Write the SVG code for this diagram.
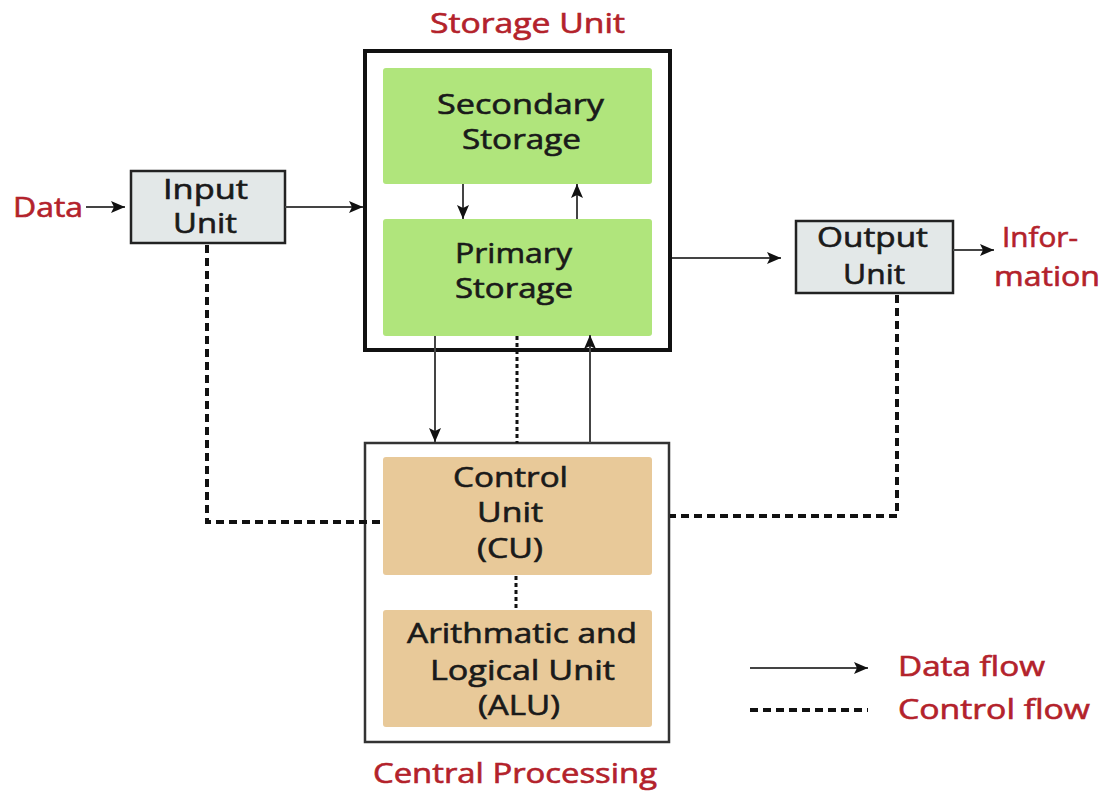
<svg xmlns="http://www.w3.org/2000/svg" width="1108" height="793" viewBox="0 0 1108 793">
<defs>
<marker id="arr" markerUnits="userSpaceOnUse" markerWidth="15" markerHeight="13" refX="14" refY="6.5" orient="auto">
<path d="M0,0.5 L14,6.5 L0,12.5 L3,6.5 Z" fill="#111"/>
</marker>
</defs>
<style>
text{font-family:"Open Sans","Liberation Sans",sans-serif;font-size:27px;fill:#1a1a1a;stroke:#1a1a1a;stroke-width:0.6}
text.red{fill:#b3222b;stroke:#b3222b}
.data{stroke:#444;stroke-width:2;fill:none}
.ctl{stroke:#111;stroke-width:4;stroke-dasharray:8 5;fill:none}
.ctl2{stroke:#111;stroke-width:3;stroke-dasharray:4 3;fill:none}
.green{fill:#b0e57c}
.tan{fill:#e8c999}
.grey{fill:#e3e8e8;stroke:#222;stroke-width:2.5}
</style>
<rect width="1108" height="793" fill="#fff"/>

<g id="storage-unit">
<rect x="365" y="51" width="305" height="299" fill="#fff" stroke="#111" stroke-width="4"/>
<text class="red" x="430" y="33" textLength="195" lengthAdjust="spacingAndGlyphs">Storage Unit</text>
</g>
<g id="secondary-storage">
<rect class="green" x="383" y="68" width="269" height="116" rx="3"/>
<text x="437" y="114" textLength="167" lengthAdjust="spacingAndGlyphs">Secondary</text>
<text x="462" y="149" textLength="119" lengthAdjust="spacingAndGlyphs">Storage</text>
</g>
<g id="primary-storage">
<rect class="green" x="383" y="219" width="269" height="117" rx="3"/>
<text x="455" y="263" textLength="117" lengthAdjust="spacingAndGlyphs">Primary</text>
<text x="455" y="298" textLength="118" lengthAdjust="spacingAndGlyphs">Storage</text>
</g>
<g id="input-unit">
<rect class="grey" x="131" y="171" width="154" height="72"/>
<text x="163" y="199" textLength="85" lengthAdjust="spacingAndGlyphs">Input</text>
<text x="173" y="233" textLength="64" lengthAdjust="spacingAndGlyphs">Unit</text>
</g>
<g id="data-label">
<text class="red" x="13" y="217" textLength="70" lengthAdjust="spacingAndGlyphs">Data</text>
</g>
<g id="output-unit">
<rect class="grey" x="796" y="221" width="157" height="72"/>
<text x="817" y="247" textLength="111" lengthAdjust="spacingAndGlyphs">Output</text>
<text x="843" y="284" textLength="62" lengthAdjust="spacingAndGlyphs">Unit</text>
</g>
<g id="information-label">
<text class="red" x="1002" y="247" textLength="76" lengthAdjust="spacingAndGlyphs">Infor-</text>
<text class="red" x="994" y="286" textLength="106" lengthAdjust="spacingAndGlyphs">mation</text>
</g>
<g id="cpu">
<rect x="365" y="443" width="304" height="299" fill="#fff" stroke="#333" stroke-width="2.5"/>
<text class="red" x="373" y="783" textLength="284" lengthAdjust="spacingAndGlyphs">Central Processing</text>
</g>
<g id="control-unit">
<rect class="tan" x="383" y="457" width="269" height="118" rx="3"/>
<text x="453" y="487" textLength="115" lengthAdjust="spacingAndGlyphs">Control</text>
<text x="477" y="522" textLength="66" lengthAdjust="spacingAndGlyphs">Unit</text>
<text x="477" y="558" font-size="26" textLength="66" lengthAdjust="spacingAndGlyphs">(CU)</text>
</g>
<g id="alu">
<rect class="tan" x="383" y="610" width="269" height="117" rx="3"/>
<text x="407" y="643" textLength="230" lengthAdjust="spacingAndGlyphs">Arithmatic and</text>
<text x="430" y="680" textLength="185" lengthAdjust="spacingAndGlyphs">Logical Unit</text>
<text x="478" y="715" textLength="82" lengthAdjust="spacingAndGlyphs">(ALU)</text>
</g>

<g id="connectors">
<line class="data" x1="86" y1="207" x2="125" y2="207" marker-end="url(#arr)"/>
<line class="data" x1="285" y1="207" x2="363" y2="207" marker-end="url(#arr)"/>
<line class="data" x1="672" y1="258" x2="781" y2="258" marker-end="url(#arr)"/>
<line class="data" x1="953" y1="250" x2="994" y2="250" marker-end="url(#arr)"/>
<line class="data" x1="463" y1="184" x2="463" y2="219" marker-end="url(#arr)"/>
<line class="data" x1="577" y1="219" x2="577" y2="184" marker-end="url(#arr)"/>
<line class="data" x1="435" y1="336" x2="435" y2="442" marker-end="url(#arr)"/>
<line class="data" x1="590" y1="443" x2="590" y2="335" marker-end="url(#arr)"/>
<line class="ctl2" x1="517" y1="336" x2="517" y2="443"/>
<line class="ctl2" x1="516" y1="576" x2="516" y2="610"/>
<polyline class="ctl" points="207,245 207,522 380,522"/>
<polyline class="ctl" points="897,295 897,516 670,516"/>
</g>

<g id="legend">
<line class="data" x1="750" y1="668" x2="868" y2="668" marker-end="url(#arr)"/>
<line class="ctl" x1="750" y1="710" x2="868" y2="710"/>
<text class="red" x="898" y="676" textLength="147" lengthAdjust="spacingAndGlyphs">Data flow</text>
<text class="red" x="898" y="719" textLength="192" lengthAdjust="spacingAndGlyphs">Control flow</text>
</g>
</svg>
